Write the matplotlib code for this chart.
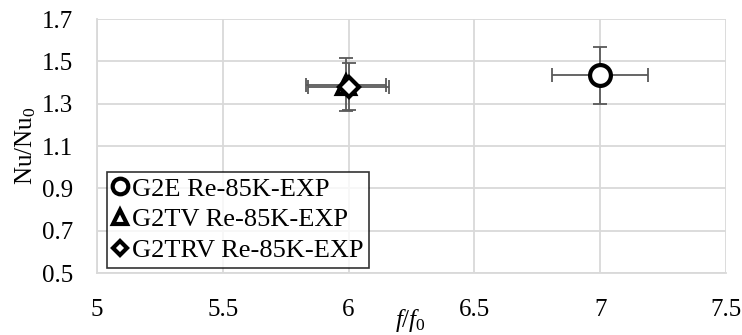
import numpy as np
import matplotlib.pyplot as plt

plt.rcParams['font.family'] = ['Liberation Serif', 'DejaVu Serif']
plt.rcParams['mathtext.fontset'] = 'custom'
plt.rcParams['mathtext.rm'] = 'Liberation Serif'
plt.rcParams['mathtext.it'] = 'Liberation Serif:italic'

# data
labels = ["G2E Re-85K-EXP", "G2TV Re-85K-EXP", "G2TRV Re-85K-EXP"]
markers = ["o", "^", "D"]
f_ratio = [7.0, 5.99, 6.0]
nu_ratio = [1.435, 1.39, 1.38]
x_err = [0.19, 0.16, 0.16]
y_err = [0.135, 0.125, 0.11]
marker_sizes = [15, 13, 10]

fig = plt.figure(figsize=(7.42, 3.35), dpi=100)
ax = fig.add_axes([97 / 742, 62 / 335, 629 / 742, 254 / 335])

for lab, m, x, y, xe, ye, ms in zip(labels, markers, f_ratio, nu_ratio, x_err, y_err, marker_sizes):
    ax.errorbar(x, y, xerr=xe, yerr=ye, fmt='none', ecolor='#595959',
                elinewidth=1.3, capsize=5, capthick=1.3, zorder=2)
    ax.plot(x, y, marker=m, ms=ms, mfc='white', mec='black', mew=3,
            ls='none', label=lab, zorder=3)

ax.set_xlim(5, 7.5)
ax.set_ylim(0.5, 1.7)
ax.set_xticks(np.arange(5, 7.51, 0.5))
ax.set_xticklabels(["5", "5.5", "6", "6.5", "7", "7.5"])
ax.set_yticks(np.arange(0.5, 1.71, 0.2))
ax.set_yticklabels(["0.5", "0.7", "0.9", "1.1", "1.3", "1.5", "1.7"])
ax.tick_params(labelsize=18, length=0)
ax.tick_params(axis='x', pad=19)
ax.tick_params(axis='y', pad=17)
ax.grid(True, color='#d9d9d9', lw=1.3)
ax.set_axisbelow(True)
for s in ['top', 'right']:
    ax.spines[s].set_visible(False)
for s in ['left', 'bottom']:
    ax.spines[s].set_color('#d9d9d9')
    ax.spines[s].set_linewidth(1.3)

ax.set_ylabel(r'Nu/Nu$_\mathregular{0}$', fontsize=18, labelpad=3)
fig.text(410 / 742, 1 - 321 / 335, r'$\mathit{f/f_0}$', fontsize=18,
         ha='center', va='center')

leg = ax.legend(loc='lower left', bbox_to_anchor=(0.003, -0.01), fontsize=19,
                frameon=True, fancybox=False, edgecolor='black',
                handlelength=0.6, handletextpad=0.15, borderpad=0.2,
                labelspacing=0.28, markerscale=0.75, borderaxespad=0.3)
leg.get_frame().set_linewidth(1.2)

fig.savefig('out.png', dpi=100)
